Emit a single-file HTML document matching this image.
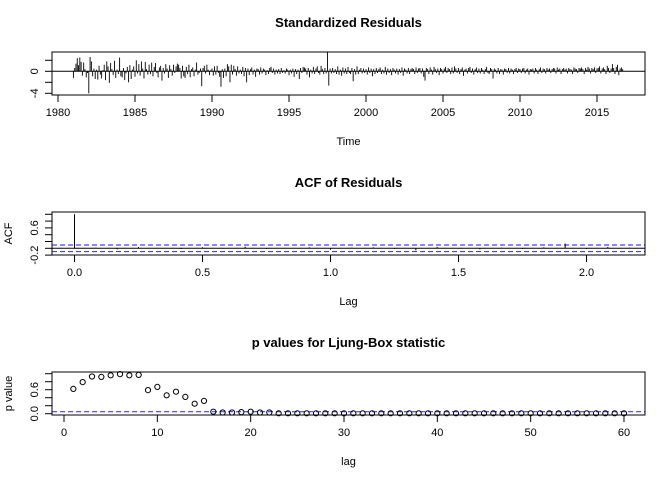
<!DOCTYPE html>
<html><head><meta charset="utf-8"><style>
body{margin:0;background:#fff}
svg{display:block;font-family:"Liberation Sans",sans-serif}
</style></head><body>
<svg id="c" width="672" height="480" viewBox="0 0 672 480"></svg>
<script>
const resid = [
-1.2,0.6,1.4,2.4,1.1,2.5,1.7,-0.8,1.6,0.4,-1.1,-0.3,
-4.0,2.6,1.8,-0.9,0.5,-1.4,0.3,-1.5,1.0,-0.6,-1.3,0.2,
1.2,-1.6,1.8,0.9,-2.1,1.5,0.4,-0.7,1.9,-1.2,0.3,-0.5,
2.5,-0.9,-1.1,0.6,-1.6,-0.4,0.8,-2.0,1.1,-1.4,0.3,0.9,
-1.0,2.0,-0.4,1.3,-0.8,1.8,0.5,-1.3,1.7,0.4,-0.6,1.2,
-0.5,1.6,-0.9,0.8,1.5,-0.3,-1.1,0.7,1.0,-1.7,0.6,-0.4,
1.3,0.5,-1.2,1.1,0.4,-0.8,1.2,-0.3,0.9,1.4,1.2,0.6,
-1.3,1.0,-0.9,-1.2,0.8,-0.5,1.2,-1.1,0.4,0.7,-0.9,0.3,
1.6,-0.6,-0.3,0.5,-2.7,0.6,1.0,-0.4,1.2,0.3,-0.7,0.2,
0.5,-0.8,0.9,-0.6,1.0,-0.3,-1.0,-2.8,0.4,-1.2,0.5,-0.9,
1.3,0.9,-2.0,1.2,-0.6,1.0,0.4,-0.8,0.9,-0.4,0.3,-0.5,
0.8,-0.9,0.6,-2.0,0.5,-0.7,0.4,0.7,-0.6,0.3,-1.0,0.5,
0.4,-0.6,0.7,-0.4,0.5,0.3,-0.7,0.2,-0.5,0.6,0.8,-0.3,
0.5,-0.6,0.3,-0.4,0.4,-0.5,0.6,-0.3,0.2,-0.4,0.5,0.3,
-0.7,0.3,-0.4,0.5,-1.0,0.4,-0.5,0.3,-1.4,0.6,-0.3,0.8,
0.7,0.5,-0.6,0.6,-1.1,0.3,-0.4,0.8,-0.5,0.5,0.9,-0.3,
-0.6,1.0,0.4,-0.5,0.6,-0.4,3.5,-2.6,0.5,-0.4,0.6,-0.3,
0.4,-0.5,0.9,-0.6,0.3,-0.8,0.7,-0.4,0.5,-0.5,0.8,-0.3,
-0.5,0.6,-1.8,0.4,-0.6,0.9,-0.5,0.3,0.6,-0.4,0.5,-0.3,
0.4,-0.6,0.7,-0.3,0.5,-0.9,0.4,-0.5,0.6,-0.3,0.4,0.7,
-0.5,0.3,-0.4,0.8,-0.6,0.5,-0.3,0.4,-0.7,0.6,0.3,-0.4,
0.5,-0.6,0.4,-0.3,0.7,-0.8,0.5,0.3,-0.4,0.6,-0.5,0.4,
0.6,0.4,-0.5,0.7,-0.3,0.5,0.6,-0.4,0.5,-1.0,-1.7,0.6,
0.4,-0.5,0.7,0.3,-0.6,0.8,0.4,-0.3,0.5,-0.7,0.6,0.4,
-0.4,0.5,0.8,-0.3,0.6,0.4,-0.5,0.7,-0.4,0.9,0.5,-0.3,
0.6,-0.5,0.4,0.7,-0.8,0.3,0.5,-0.4,0.6,0.8,-0.3,0.5,
-0.6,0.4,0.7,-0.3,0.5,-0.4,0.6,0.3,-0.5,0.4,0.8,-0.3,
-0.5,0.6,0.4,-1.3,0.5,0.3,-0.4,0.6,-0.5,0.4,0.3,-0.6,
0.5,0.4,-0.3,0.6,-0.4,0.5,0.3,-0.5,0.4,0.6,-0.3,0.5,
0.4,-0.3,0.5,0.6,-0.4,0.3,0.5,-0.6,0.4,0.3,0.5,-0.4,
0.6,0.3,-0.5,0.4,0.7,-0.3,0.5,0.4,-0.4,0.6,0.3,0.5,
-0.3,0.4,0.6,0.5,-0.4,0.7,0.3,0.5,-0.5,0.4,0.6,0.3,
0.5,-0.4,0.6,0.4,0.3,-0.5,0.7,0.5,0.4,-0.3,0.6,0.5,
0.7,0.4,-0.5,0.6,0.3,0.8,0.5,-0.4,0.6,0.4,0.7,-0.3,
0.5,0.6,0.9,-0.4,0.5,0.7,0.4,-0.5,1.0,0.6,-0.3,0.5,
1.3,0.6,-0.5,0.8,1.2,-0.7,0.5,0.7,0.4
];
const yearTicks=[1980,1985,1990,1995,2000,2005,2010,2015];
const residTicks=[-4,-2,0,2];
const residLabels=[-4,0];
const acfVals=[1.0,0.02,-0.03,0.04,0.01,-0.02,0.03,-0.01,0.05,-0.02,0.01,0.03,-0.04,0.02,0.03,-0.02,-0.06,0.04,0.01,-0.03,0.02,-0.02,0.03,0.14,-0.02,0.04,0.02];
const acfTicks=[-0.2,0,0.2,0.4,0.6,0.8,1.0];
const acfLabels=[-0.2,0.6];
const lagTicks=[0,0.5,1,1.5,2];
const acfBand=0.096;
const pvals=[0.62,0.79,0.93,0.92,0.96,0.99,0.96,0.97,0.59,0.67,0.46,0.55,0.42,0.25,0.32,0.05,0.03,0.03,0.04,0.05,0.03,0.03,0.01,0.01,0.01,0.01,0.01,0.01,0.01,0.01,0.01,0.01,0.01,0.01,0.01,0.01,0.01,0.01,0.01,0.01,0.01,0.01,0.01,0.01,0.01,0.01,0.01,0.01,0.01,0.01,0.01,0.01,0.01,0.01,0.01,0.01,0.01,0.01,0.01,0.01];
const pTicks=[0,0.2,0.4,0.6,0.8,1.0];
const pLabels=[0,0.6];
const pLagTicks=[0,10,20,30,40,50,60];

const S=document.getElementById('c');const NS='http://www.w3.org/2000/svg';
function mk(t,a,txt){const e=document.createElementNS(NS,t);for(const k in a)e.setAttribute(k,a[k]);if(txt!==undefined)e.textContent=txt;S.appendChild(e);return e;}
const L=52,R=645;
// axis functions
const xYear=v=>58+(v-1980)*15.4;
const yRes=v=>71.3-v*5.5;
const xLag=v=>74.5+v*256;
const yAcf=v=>248.3-v*34;
const xP=v=>64+v*9.333;
const yP=v=>413.7-v*40;

function panel(name,top,bot,title,xlab,ylab){
  let e=mk('text',{x:(L+R)/2,y:top-25,'text-anchor':'middle','font-size':13,'font-weight':'bold'},title);
  
  e=mk('text',{x:(L+R)/2,y:bot+50,'text-anchor':'middle','font-size':11},xlab);
  
  if(ylab){e=mk('text',{x:12,y:(top+bot)/2,'text-anchor':'middle','font-size':11,transform:`rotate(-90 12 ${(top+bot)/2})`},ylab);
  }
}
function frame(name,top,bot){const e=mk('rect',{x:L,y:top,width:R-L,height:bot-top,fill:'none',stroke:'#000','stroke-width':1});
}
function xaxis(name,bot,ticks,fx,fmt){ticks.forEach(t=>{const x=fx(t);
 let e=mk('line',{x1:x,x2:x,y1:bot,y2:bot+7,stroke:'#000'});
 e=mk('text',{x:x,y:bot+21,'text-anchor':'middle','font-size':11},fmt(t));});}
function yaxis(name,ticks,labels,fy,fmt){ticks.forEach(t=>{const y=fy(t);
 const e=mk('line',{x1:L-7,x2:L,y1:y,y2:y,stroke:'#000'});});
 labels.forEach(t=>{const y=fy(t);const e=mk('text',{x:38,y:y,'text-anchor':'middle','font-size':11,transform:`rotate(-90 38 ${y})`},fmt(t));
 });}

// Panel 1
panel('residuals',52,95,'Standardized Residuals','Time',null);
let e=mk('line',{x1:L,x2:R,y1:yRes(0),y2:yRes(0),stroke:'#000'});
resid.forEach((v,i)=>{const x=xYear(1981+i/12);const b=mk('line',{x1:x,x2:x,y1:yRes(0),y2:yRes(v),stroke:'#000','stroke-width':0.9});
 });
frame('residuals',52,95);
xaxis('residuals',95,yearTicks,xYear,String);
yaxis('residuals',residTicks,residLabels,yRes,String);

// Panel 2
panel('acf',212,255,'ACF of Residuals','Lag','ACF');
e=mk('line',{x1:L,x2:R,y1:yAcf(0),y2:yAcf(0),stroke:'#000'});
[acfBand,-acfBand].forEach(b=>{const l=mk('line',{x1:L,x2:R,y1:yAcf(b),y2:yAcf(b),stroke:'#4040ff','stroke-width':1.2,'stroke-dasharray':'5,3'});
 });
acfVals.forEach((v,i)=>{const x=xLag(i/12);const b=mk('line',{x1:x,x2:x,y1:yAcf(0),y2:yAcf(v),stroke:'#000','stroke-width':1});
 });
frame('acf',212,255);
xaxis('acf',255,lagTicks,xLag,t=>t.toFixed(1));
yaxis('acf',acfTicks,acfLabels,yAcf,t=>t.toFixed(1));

// Panel 3
panel('ljung-box',372,415,'p values for Ljung-Box statistic','lag','p value');
e=mk('line',{x1:L,x2:R,y1:yP(0.05),y2:yP(0.05),stroke:'#4040ff','stroke-width':1.2,'stroke-dasharray':'5,3'});

pvals.forEach((v,i)=>{const c=mk('circle',{cx:xP(i+1),cy:yP(v),r:2.6,fill:'none',stroke:'#000','stroke-width':1});
 });
frame('ljung-box',372,415);
xaxis('ljung-box',415,pLagTicks,xP,String);
yaxis('ljung-box',pTicks,pLabels,yP,t=>t.toFixed(1));
</script>
</body></html>
